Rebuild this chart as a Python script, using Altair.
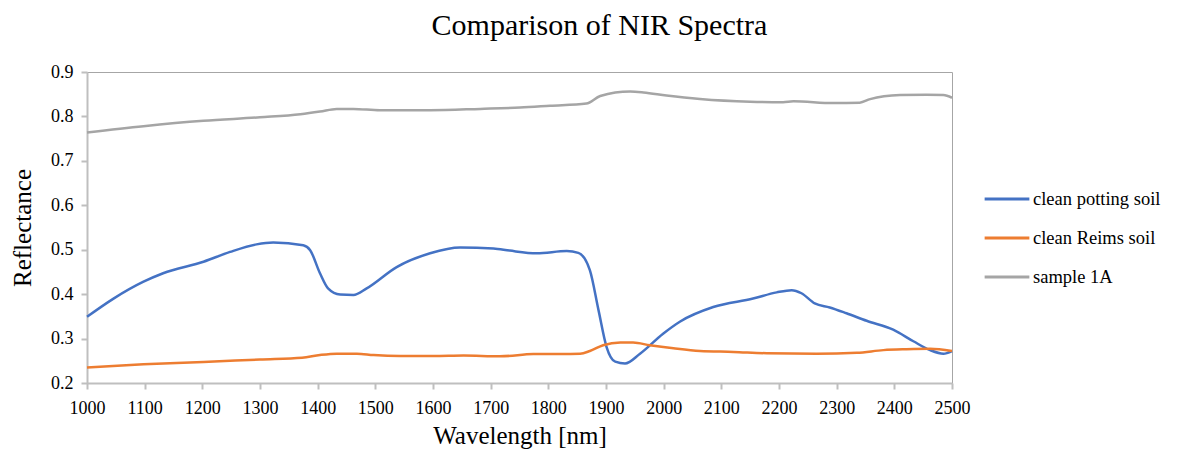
import altair as alt
import pandas as pd

SERIES = ["clean potting soil", "clean Reims soil", "sample 1A"]
COLORS = ["#4472C4", "#ED7D31", "#A5A5A5"]

potting_wl = [1000, 1046, 1098, 1132, 1202, 1248, 1294, 1323, 1375, 1387, 1404, 1418, 1439, 1462,
              1485, 1537, 1595, 1647, 1705, 1733, 1780, 1832, 1852, 1872, 1887, 1901, 1916, 1933,
              1959, 1999, 2028, 2086, 2155, 2196, 2222, 2239, 2262, 2288, 2317, 2352, 2398, 2433,
              2462, 2485, 2500]
potting_val = [0.349, 0.390, 0.428, 0.447, 0.473, 0.495, 0.512, 0.516, 0.510, 0.499, 0.447, 0.413,
               0.399, 0.398, 0.413, 0.461, 0.492, 0.505, 0.503, 0.498, 0.492, 0.497, 0.493, 0.454,
               0.364, 0.281, 0.248, 0.244, 0.266, 0.311, 0.338, 0.371, 0.390, 0.404, 0.409, 0.402,
               0.379, 0.370, 0.357, 0.340, 0.320, 0.294, 0.274, 0.266, 0.272]

reims_wl = [1000, 1098, 1202, 1300, 1373, 1404, 1433, 1468, 1497, 1543, 1601, 1653, 1716, 1774,
            1855, 1872, 1895, 1925, 1947, 1976, 2017, 2063, 2121, 2179, 2265, 2335, 2381, 2421,
            2462, 2500]
reims_val = [0.235, 0.242, 0.247, 0.253, 0.257, 0.263, 0.266, 0.266, 0.263, 0.261, 0.261, 0.262,
             0.260, 0.265, 0.266, 0.272, 0.285, 0.291, 0.291, 0.285, 0.278, 0.272, 0.270, 0.267,
             0.266, 0.268, 0.274, 0.276, 0.277, 0.272]

sample_wl = [1000, 1098, 1202, 1300, 1370, 1404, 1433, 1462, 1508, 1595, 1682, 1751, 1803, 1866,
             1890, 1942, 1965, 2005, 2063, 2150, 2207, 2225, 2294, 2340, 2358, 2410, 2456, 2485,
             2500]
sample_val = [0.764, 0.778, 0.790, 0.798, 0.805, 0.811, 0.817, 0.817, 0.814, 0.814, 0.817, 0.820,
              0.824, 0.829, 0.846, 0.856, 0.854, 0.847, 0.839, 0.833, 0.832, 0.834, 0.830, 0.831,
              0.839, 0.848, 0.849, 0.848, 0.842]

x_ticks = list(range(1000, 2501, 100))
y_ticks = [0.2, 0.3, 0.4, 0.5, 0.6, 0.7, 0.8, 0.9]

rows = []
for name, wl, val in [(SERIES[0], potting_wl, potting_val),
                      (SERIES[1], reims_wl, reims_val),
                      (SERIES[2], sample_wl, sample_val)]:
    for w, v in zip(wl, val):
        rows.append({"series": name, "wavelength": w, "reflectance": v})
df = pd.DataFrame(rows)

FONT = "'Liberation Serif', 'Times New Roman', 'DejaVu Serif', serif"

chart = (
    alt.Chart(df)
    .mark_line(strokeWidth=2.5, interpolate="monotone")
    .encode(
        x=alt.X("wavelength:Q",
                scale=alt.Scale(domain=[1000, 2500], nice=False, zero=False),
                axis=alt.Axis(values=x_ticks, format="d", title="Wavelength [nm]",
                              grid=False, tickSize=6, labelPadding=10, titlePadding=6,
                              labelFlush=False, labelOverlap=False, labelFont=FONT)),
        y=alt.Y("reflectance:Q",
                scale=alt.Scale(domain=[0.2, 0.9], nice=False, zero=False),
                axis=alt.Axis(values=y_ticks, format=".1f", title="Reflectance",
                              grid=False, tickSize=6, labelPadding=8, titlePadding=15,
                              labelFont=FONT)),
        color=alt.Color("series:N",
                        scale=alt.Scale(domain=SERIES, range=COLORS),
                        legend=alt.Legend(title=None, orient="none", legendX=896, legendY=103,
                                          symbolType="stroke", symbolSize=2000,
                                          symbolStrokeWidth=3, labelFontSize=18.5,
                                          labelFont=FONT, labelColor="#000", labelOffset=2,
                                          rowPadding=5)),
        detail="series:N",
    )
    .properties(
        width=865, height=311,
        title=alt.TitleParams("Comparison  of NIR Spectra", fontSize=30, font=FONT,
                              fontWeight="normal", color="#000", anchor="middle",
                              dx=80, offset=22),
        autosize=alt.AutoSizeParams(type="none"),
        padding={"left": 79, "top": 64, "right": 210, "bottom": 76},
    )
    .configure_view(stroke="#A6A6A6", strokeWidth=1)
    .configure_axis(
        domainColor="#BFBFBF", domainWidth=2, tickColor="#BFBFBF", tickWidth=2,
        labelFont=FONT, labelFontSize=18, labelColor="#000",
        titleFont=FONT, titleFontSize=25, titleFontWeight="normal", titleColor="#000",
    )
)

chart.save("out.html", embed_options={"renderer": "svg", "actions": False})
